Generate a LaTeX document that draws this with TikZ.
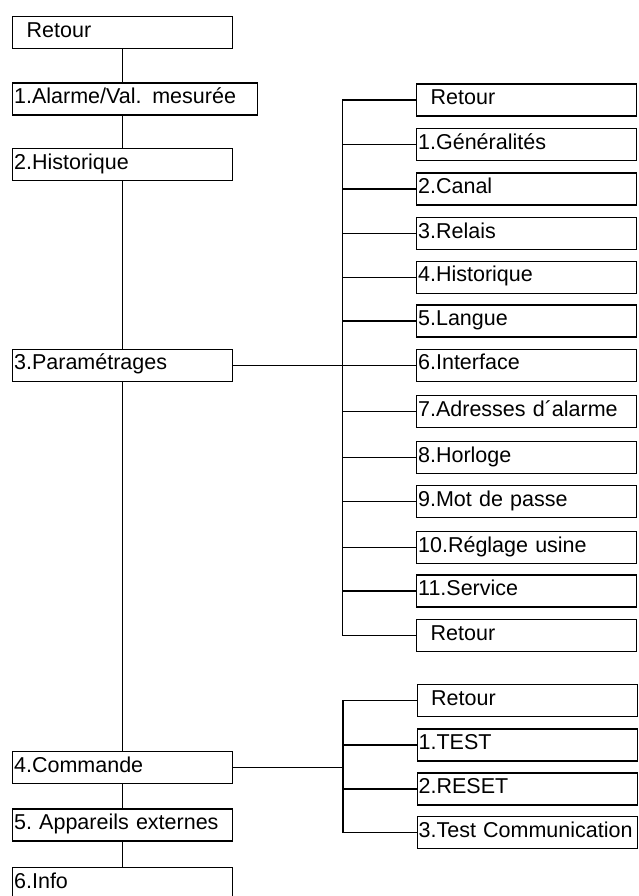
\documentclass[tikz,border=0pt]{standalone}
\usepackage{fontspec}
\setmainfont{Liberation Sans}
\frenchspacing
\begin{document}
\begin{tikzpicture}[x=1pt,y=-1pt,
  mbox/.style={draw, line width=1.3pt, rectangle, anchor=north west, minimum height=32pt,
    text width=#1, inner xsep=1.5pt, inner ysep=0pt, align=left,
    font=\fontsize{21.5}{25}\selectfont, text height=15pt, text depth=5.4pt},
  mbox/.default=217pt,
  link/.style={line width=1.3pt, line join=miter}]
\useasboundingbox (0,0) rectangle (638,896);

% main column
\node[mbox] (m0) at (12,16) {\hspace*{12.5pt}Retour};
\node[mbox=242pt] (m1) at (12,82.5) {1.Alarme/Val.\ \,mesurée};
\node[mbox] (m2) at (12,148) {2.Historique};
\node[mbox] (m3) at (12,348.5) {3.Paramétrages};
\node[mbox] (m4) at (12,750.7) {4.Commande};
\node[mbox] (m5) at (12,808.3) {5. Appareils externes};
\node[mbox] (m6) at (12,866.7) {6.Info};

\draw[link] (m0.south) -- (m1.north -| m0.south);
\draw[link] (m1.south -| m0.south) -- (m2.north);
\draw[link] (m2.south) -- (m3.north);
\draw[link] (m3.south) -- (m4.north);
\draw[link] (m4.south) -- (m5.north);
\draw[link] (m5.south) -- (m6.north);

% sub menu of 3.Paramétrages
\coordinate (b1) at (342.3,0);
\node[mbox] (s0) at (416,83.3) {\hspace*{12.5pt}Retour};
\node[mbox] (s1) at (416,127.7) {1.Généralités};
\node[mbox] (s2) at (416,172.3) {2.Canal};
\node[mbox] (s3) at (416,216.7) {3.Relais};
\node[mbox] (s4) at (416,260.5) {4.Historique};
\node[mbox] (s5) at (416,304.3) {5.Langue};
\node[mbox] (s6) at (416,348.5) {6.Interface};
\node[mbox] (s7) at (416,395) {7.Adresses d´alarme};
\node[mbox] (s8) at (416,440.7) {8.Horloge};
\node[mbox] (s9) at (416,485) {9.Mot de passe};
\node[mbox] (s10) at (416,531) {10.Réglage usine};
\node[mbox] (s11) at (416,574.3) {11.Service};
\node[mbox] (s12) at (416,619) {\hspace*{12.5pt}Retour};

\draw[link] (s0.west) -- (s0.west -| b1) -- (s12.west -| b1) -- (s12.west);
\foreach \i in {1,...,11} {
  \draw[link] (s\i.west -| b1) -- (s\i.west);
}
\draw[link] (m3.east) -- (b1 |- m3.east);

% sub menu of 4.Commande
\coordinate (b2) at (343,0);
\node[mbox] (c0) at (416.5,684) {\hspace*{12.5pt}Retour};
\node[mbox] (c1) at (416.5,728.3) {1.TEST};
\node[mbox] (c2) at (416.5,772.3) {2.RESET};
\node[mbox] (c3) at (416.5,815.7) {3.Test Communication};

\draw[link] (c0.west) -- (c0.west -| b2) -- (c3.west -| b2) -- (c3.west);
\draw[link] (c1.west -| b2) -- (c1.west);
\draw[link] (c2.west -| b2) -- (c2.west);
\draw[link] (m4.east) -- (b2 |- m4.east);
\end{tikzpicture}
\end{document}
